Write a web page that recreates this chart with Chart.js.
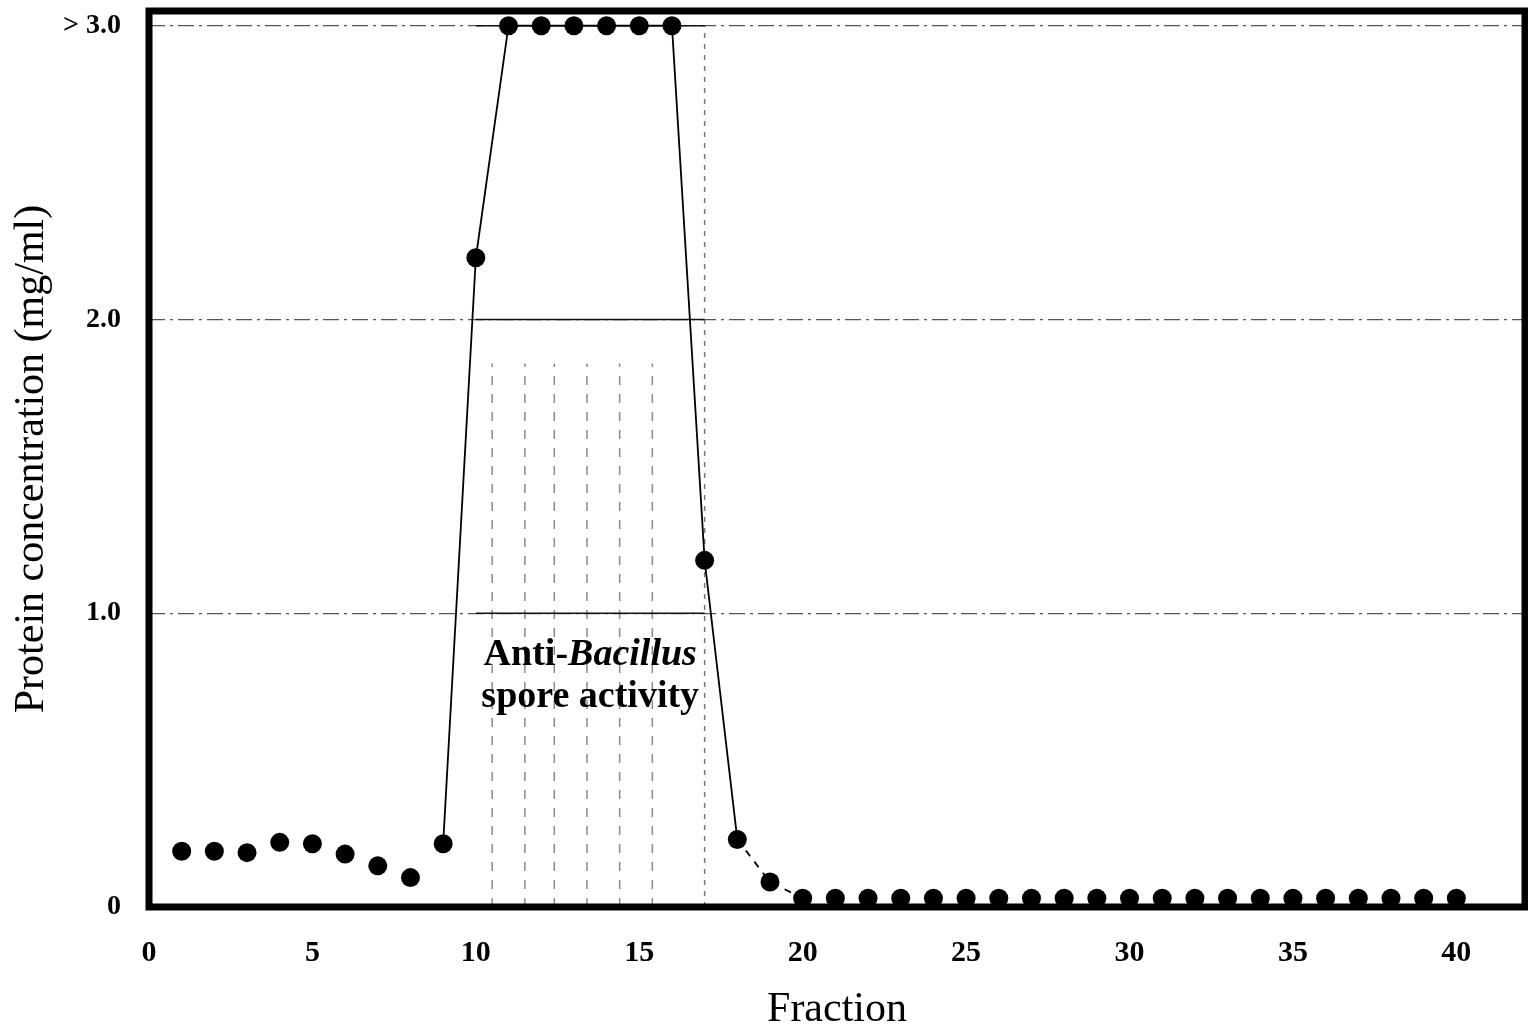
<!DOCTYPE html>
<html>
<head>
<meta charset="utf-8">
<title>Protein concentration by fraction</title>
<script src="https://cdn.jsdelivr.net/npm/chart.js@4/dist/chart.umd.min.js"></script>
<style>
  html, body { margin: 0; padding: 0; background: #fff; }
  #wrap { width: 1528px; height: 1031px; }
</style>
</head>
<body>
<div id="wrap"><canvas id="chart"></canvas></div>
<script>
// fraction number and measured protein (mg/ml); 3.0 means "> 3.0" (off scale)
const fractions = [1, 2, 3, 4, 5, 6, 7, 8, 9, 10,
    11, 12, 13, 14, 15, 16, 17, 18, 19, 20,
    21, 22, 23, 24, 25, 26, 27, 28, 29, 30,
    31, 32, 33, 34, 35, 36, 37, 38, 39, 40];
const protein = [0.19, 0.19, 0.185, 0.22, 0.215, 0.18, 0.14, 0.10, 0.215, 2.21,
    3.0, 3.0, 3.0, 3.0, 3.0, 3.0, 1.18, 0.23, 0.085, 0.03,
    0.03, 0.03, 0.03, 0.03, 0.03, 0.03, 0.03, 0.03, 0.03, 0.03,
    0.03, 0.03, 0.03, 0.03, 0.03, 0.03, 0.03, 0.03, 0.03, 0.03];

const xTicks = [0, 5, 10, 15, 20, 25, 30, 35, 40];
const yTicks = [0, 1, 2, 3];
const yTickLabels = ['0', '1.0', '2.0', '> 3.0'];

// the elution curve is drawn solid from fraction 9 to 18, dashed to 20
const solidFrom = 9;
const solidTo = 18;
const dashedTo = 20;

// fractions showing anti-Bacillus spore activity
const activityRange = [10, 17];
const activityLevels = [1, 2, 3];
const activityStripes = [10.5, 11.5, 12.4, 13.4, 14.4, 15.4];
const stripeTop = 1.85;

const serif = "'Liberation Serif', 'DejaVu Serif', serif";

const points = fractions.map((f, i) => ({ x: f, y: protein[i] }));

const datasets = [{
    data: points,
    showLine: true,
    borderColor: '#000',
    borderWidth: 1.8,
    backgroundColor: '#000',
    pointRadius: 9.5,
    pointBorderWidth: 0,
    pointBackgroundColor: '#000',
    tension: 0,
    order: 0,
    segment: {
        borderColor: c => (c.p0.parsed.x >= solidFrom && c.p0.parsed.x < dashedTo) ? '#000' : 'transparent',
        borderDash: c => (c.p0.parsed.x >= solidTo && c.p0.parsed.x < dashedTo) ? [7, 7] : []
    }
}];

activityLevels.forEach(l => {
    datasets.push({
        data: [{ x: activityRange[0], y: l }, { x: activityRange[1], y: l }],
        showLine: true,
        borderColor: '#111',
        borderWidth: 1.6,
        pointRadius: 0,
        order: 1
    });
});

activityStripes.forEach(s => {
    datasets.push({
        data: [{ x: s, y: 0 }, { x: s, y: stripeTop }],
        showLine: true,
        borderColor: '#8a8a8a',
        borderWidth: 1.5,
        borderDash: [9, 9],
        pointRadius: 0,
        order: 2
    });
});

// right edge of the active band
datasets.push({
    data: [{ x: activityRange[1], y: 0 }, { x: activityRange[1], y: 3 }],
    showLine: true,
    borderColor: '#777',
    borderWidth: 1.5,
    borderDash: [5, 6],
    pointRadius: 0,
    order: 2
});

const bandLabel = {
    id: 'bandLabel',
    afterDatasetsDraw(chart) {
        const ctx = chart.ctx;
        const xs = chart.scales.x, ys = chart.scales.y;
        const cx = xs.getPixelForValue((activityRange[0] + activityRange[1]) / 2);
        const y1 = ys.getPixelForValue(1) + 52;
        const y2 = y1 + 42;
        ctx.save();
        ctx.fillStyle = '#000';
        ctx.textBaseline = 'alphabetic';
        ctx.font = 'bold 38px ' + serif;
        const w1 = ctx.measureText('Anti-').width;
        ctx.font = 'italic bold 38px ' + serif;
        const w2 = ctx.measureText('Bacillus').width;
        let x = cx - (w1 + w2) / 2;
        ctx.textAlign = 'left';
        ctx.font = 'bold 38px ' + serif;
        ctx.fillText('Anti-', x, y1);
        ctx.font = 'italic bold 38px ' + serif;
        ctx.fillText('Bacillus', x + w1, y1);
        ctx.font = 'bold 38px ' + serif;
        ctx.textAlign = 'center';
        ctx.fillText('spore activity', cx, y2);
        ctx.restore();
    }
};

const frame = {
    id: 'frame',
    afterDraw(chart) {
        const a = chart.chartArea;
        const ctx = chart.ctx;
        ctx.save();
        ctx.strokeStyle = '#000';
        ctx.lineWidth = 7;
        ctx.strokeRect(a.left, a.top, a.right - a.left, a.bottom - a.top);
        ctx.restore();
    }
};

const chart = new Chart(document.getElementById('chart'), {
    type: 'scatter',
    data: { datasets: datasets },
    plugins: [bandLabel, frame],
    options: {
        responsive: true,
        maintainAspectRatio: false,
        animation: false,
        devicePixelRatio: 1,
        layout: { autoPadding: false, padding: { top: 11, right: 3, left: 0, bottom: 0 } },
        plugins: {
            legend: { display: false },
            tooltip: { enabled: false }
        },
        scales: {
            x: {
                type: 'linear',
                min: 0,
                max: 42.1,
                afterBuildTicks: s => { s.ticks = xTicks.map(v => ({ value: v })); },
                afterFit: s => {
                    s.height = 124;
                    s.paddingLeft = 0;
                    s.paddingRight = 0;
                },
                grid: { display: false, drawTicks: false },
                border: { display: false },
                ticks: {
                    color: '#000',
                    padding: 28,
                    maxRotation: 0,
                    autoSkip: false,
                    font: { family: serif, size: 30, weight: 'bold' }
                },
                title: {
                    display: true,
                    text: 'Fraction',
                    color: '#000',
                    padding: { top: 0, bottom: 0 },
                    font: { family: serif, size: 42, lineHeight: 1 }
                }
            },
            y: {
                type: 'linear',
                min: 0,
                max: 3.05,
                afterBuildTicks: s => { s.ticks = yTicks.map(v => ({ value: v })); },
                afterFit: s => {
                    s.width = 149;
                    s.paddingTop = 0;
                    s.paddingBottom = 0;
                },
                grid: {
                    drawTicks: false,
                    lineWidth: 1.3,
                    color: c => c.tick && c.tick.value === 0 ? 'transparent' : '#555'
                },
                border: { display: false, dash: [16, 5, 3, 5] },
                ticks: {
                    color: '#000',
                    padding: 28,
                    font: { family: serif, size: 28, weight: 'bold' },
                    callback: v => yTickLabels[yTicks.indexOf(v)]
                },
                title: {
                    display: true,
                    text: 'Protein concentration (mg/ml)',
                    color: '#000',
                    padding: { top: 11, bottom: 0 },
                    font: { family: serif, size: 42, lineHeight: 1 }
                }
            }
        }
    }
});
</script>
</body>
</html>
